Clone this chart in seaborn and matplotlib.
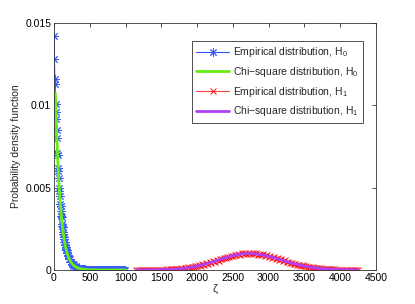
import numpy as np
import pandas as pd
import matplotlib
matplotlib.use('Agg')
import matplotlib.pyplot as plt
import seaborn as sns

# values in units of 1e-4 (H0) and 1e-5 (H1)
h0_x = np.concatenate([np.arange(2, 200, 5), np.arange(202, 1000, 10)])
h0_emp = [142, 128, 116, 113, 101, 96, 92, 85, 80, 71,
          70, 62, 60, 56, 50, 48, 45, 40, 39, 36,
          33, 32, 28, 27, 26, 23, 22, 20, 19, 17,
          17, 15, 14, 13, 12, 12, 10, 10, 9, 9,
          8.6, 6.4, 6.7, 4.8, 5.0, 3.5, 3.8, 2.6, 2.8, 1.9,
          2.1, 1.8, 1.3, 1.4, 0.9, 1.0, 0.7, 0.8, 0.5, 0.6,
          0.4, 0.45, 0.3, 0.35, 0.2, 0.25, 0.15, 0.2, 0.1, 0.15,
          0.1, 0.05, 0.1, 0.05, 0.1, 0.05, 0.1, 0.05, 0.1, 0.05,
          0.1, 0.05, 0.1, 0.05, 0.1, 0.05, 0.1, 0.05, 0.1, 0.05,
          0.1, 0.05, 0.1, 0.05, 0.1, 0.05, 0.1, 0.05, 0.1, 0.05,
          0.1, 0.05, 0.1, 0.05, 0.1, 0.05, 0.1, 0.05, 0.1, 0.05,
          0.1, 0.05, 0.1, 0.05, 0.1, 0.05, 0.1, 0.05, 0.1, 0.05]

chi0_x = np.arange(20, 1001, 20)
chi0_y = [107.4, 80.7, 60.6, 45.5, 34.2, 25.7, 19.3, 14.5, 10.9, 8.2,
          6.2, 4.6, 3.5, 2.6, 2.0, 1.5, 1.1, 0.84, 0.63, 0.47,
          0.36, 0.27, 0.2, 0.15, 0.11, 0.08, 0.06, 0.05, 0.03, 0.03,
          0.02, 0.02, 0.01, 0.01, 0.01, 0, 0, 0, 0, 0,
          0, 0, 0, 0, 0, 0, 0, 0, 0, 0]

h1_x = np.arange(1150, 4251, 25)
h1_emp = [0.1, 0.3, 0.1, 0.4, 0.2, 0.5, 0.3, 0.6, 0.5, 0.8,
          0.6, 1.1, 0.9, 1.5, 1.3, 2.0, 1.8, 2.9, 2.4, 3.8,
          3.4, 5.2, 4.6, 6.8, 6.2, 8.9, 8.1, 11.5, 10.6, 15.0,
          13.2, 18.5, 16.9, 22.8, 21.0, 27.9, 25.5, 33.8, 31.2, 39.5,
          37.0, 45.9, 43.1, 53.2, 50.0, 60.1, 57.2, 66.8, 64.9, 74.0,
          71.3, 80.2, 77.9, 87.5, 84.0, 92.3, 88.6, 97.1, 93.0, 100.8,
          95.2, 103.5, 97.1, 104.0, 96.8, 103.2, 95.9, 101.0, 93.1, 98.2,
          89.5, 94.0, 85.3, 89.6, 80.0, 84.1, 74.2, 78.0, 68.3, 71.5,
          61.8, 65.0, 55.2, 58.1, 48.9, 51.2, 42.6, 44.8, 36.9, 38.7,
          31.3, 33.0, 26.5, 27.8, 22.0, 23.4, 18.1, 19.2, 14.6, 15.8,
          11.8, 12.6, 9.4, 10.1, 7.4, 8.0, 5.8, 6.2, 4.4, 4.8,
          3.3, 3.6, 2.5, 2.7, 1.8, 2.0, 1.3, 1.5, 0.9, 1.1,
          0.6, 0.8, 0.4, 0.6, 0.3]

chi1_x = np.arange(1150, 4251, 50)
chi1_y = [0.09, 0.14, 0.22, 0.33, 0.49, 0.72, 1.03, 1.47, 2.07, 2.86,
          3.9, 5.2, 6.9, 9.1, 11.7, 14.9, 18.6, 23.0, 28.0, 33.6,
          39.8, 46.5, 53.5, 60.7, 67.8, 74.8, 81.3, 87.2, 92.1, 96.0,
          98.6, 99.9, 99.8, 98.5, 96.1, 92.6, 88.2, 83.1, 77.3, 71.1,
          64.6, 58.0, 51.5, 45.2, 39.1, 33.5, 28.4, 23.7, 19.6, 16.0,
          12.9, 10.3, 8.2, 6.4, 4.9, 3.7, 2.8, 2.1, 1.5, 1.1,
          0.8, 0.57, 0.40]

df_h0 = pd.DataFrame({'x': h0_x, 'y': np.array(h0_emp) * 1e-4})
df_c0 = pd.DataFrame({'x': chi0_x, 'y': np.array(chi0_y) * 1e-4})
df_h1 = pd.DataFrame({'x': h1_x, 'y': np.array(h1_emp) * 1e-5})
df_c1 = pd.DataFrame({'x': chi1_x, 'y': np.array(chi1_y) * 1e-5})

sns.set_theme(style='white')
plt.rcParams['font.family'] = ['Liberation Sans', 'DejaVu Sans']
plt.rcParams['mathtext.fontset'] = 'custom'
plt.rcParams['mathtext.rm'] = 'Liberation Sans'
plt.rcParams['mathtext.it'] = 'Liberation Sans'

fig = plt.figure(figsize=(4.15, 3.04), dpi=100)
ax = fig.add_axes([0.130, 0.112, 0.776, 0.812])

# matlab-style asterisk marker
star = (8, 2, 0)

sns.lineplot(data=df_h0, x='x', y='y', ax=ax, color='#3050ff', lw=0.8,
             marker=star, markersize=6, markeredgewidth=0.7, markeredgecolor='#3a5cff',
             label='Empirical distribution, H$_0$')
sns.lineplot(data=df_c0, x='x', y='y', ax=ax, color='#66ee11', lw=2,
             label='Chi\u2212square distribution, H$_0$')
sns.lineplot(data=df_h1, x='x', y='y', ax=ax, color='#ff4040', lw=0.8,
             marker='x', markersize=4.5, markeredgewidth=0.7, markeredgecolor='#ff1010',
             label='Empirical distribution, H$_1$')
sns.lineplot(data=df_c1, x='x', y='y', ax=ax, color='#b040f8', lw=2,
             label='Chi\u2212square distribution, H$_1$')

ax.set_xlim(0, 4500)
ax.set_ylim(0, 0.015)
ax.set_xticks(np.arange(0, 4501, 500))
ax.set_yticks([0, 0.005, 0.01, 0.015])
ax.set_yticklabels(['0', '0.005', '0.01', '0.015'])
ax.tick_params(direction='in', length=3, width=0.5, labelsize=7.5, colors='black',
               top=True, right=True, pad=2)
for s in ax.spines.values():
    s.set_linewidth(0.6)
    s.set_color('#333333')
ax.set_xlabel('\u03b6', fontsize=8, labelpad=1)
ax.set_ylabel('Probability density function', fontsize=7.5, labelpad=3)

leg = ax.legend(loc='upper right', bbox_to_anchor=(0.96, 0.927), borderaxespad=0,
                fontsize=7.5, frameon=True, fancybox=False, handlelength=3.2,
                handletextpad=0.4, borderpad=0.4, labelspacing=0.55)
leg.get_frame().set_edgecolor('black')
leg.get_frame().set_linewidth(0.6)

fig.savefig('out.png', dpi=100)
